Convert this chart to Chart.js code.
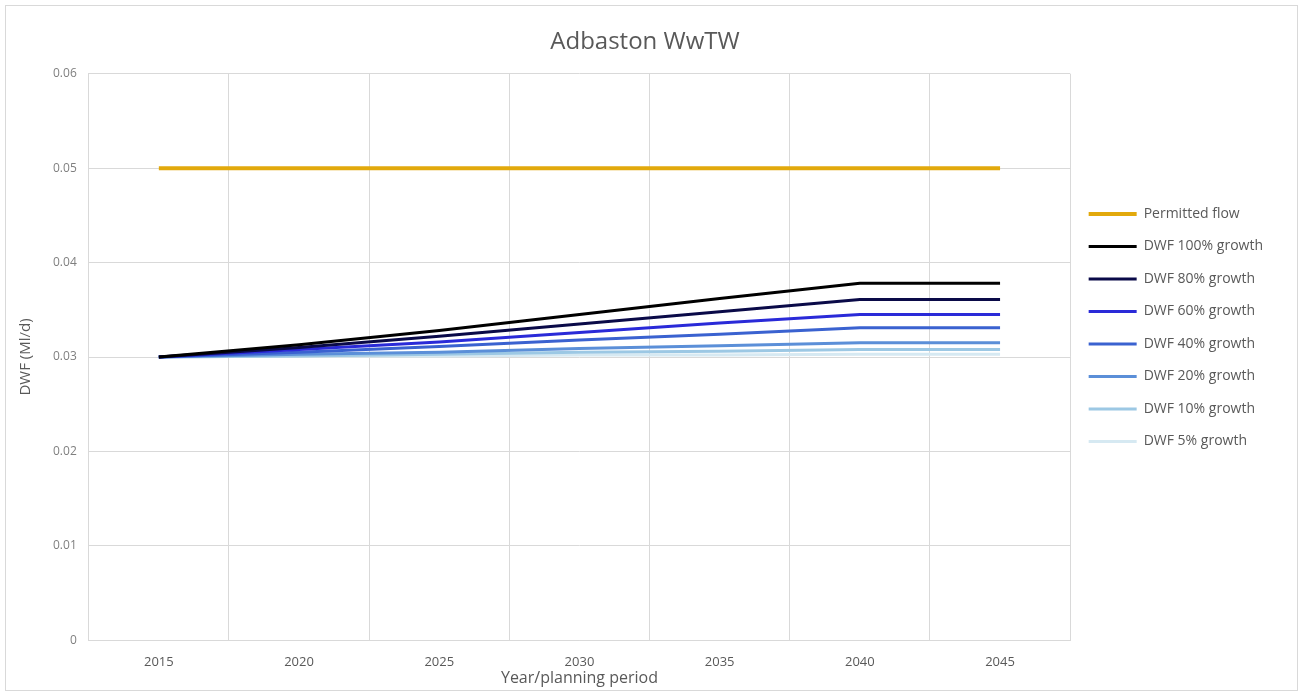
<!DOCTYPE html>
<html>
<head>
<meta charset="utf-8">
<script src="https://cdn.jsdelivr.net/npm/chart.js@4"></script>
<style>
  html, body { margin: 0; padding: 0; background: #fff; }
  #wrap { width: 1303px; height: 693px; position: relative; }
</style>
</head>
<body>
<div id="wrap"><canvas id="dwfChart" width="1303" height="693"></canvas></div>
<script>
const years = ["2015", "2020", "2025", "2030", "2035", "2040", "2045"];

const permittedFlow = [0.05, 0.05, 0.05, 0.05, 0.05, 0.05, 0.05];
const growth100 = [0.0300, 0.0313, 0.0328, 0.0345, 0.0362, 0.0378, 0.0378];
const growth80  = [0.0300, 0.0310, 0.0322, 0.0335, 0.0348, 0.0361, 0.0361];
const growth60  = [0.0300, 0.0308, 0.0316, 0.0326, 0.0336, 0.0345, 0.0345];
const growth40  = [0.0300, 0.0305, 0.0311, 0.0318, 0.0324, 0.0331, 0.0331];
const growth20  = [0.0300, 0.0303, 0.0305, 0.0309, 0.0312, 0.0315, 0.0315];
const growth10  = [0.0300, 0.0301, 0.0303, 0.0305, 0.0306, 0.0308, 0.0308];
const growth5   = [0.0300, 0.0301, 0.0301, 0.0302, 0.0302, 0.0303, 0.0303];

const yTicks = [0, 0.01, 0.02, 0.03, 0.04, 0.05, 0.06];

function line(label, data, color, width) {
  return {
    label: label,
    data: data,
    borderColor: color,
    backgroundColor: color,
    borderWidth: width,
    pointRadius: 0,
    pointHoverRadius: 0,
    tension: 0,
    fill: false,
  };
}

// light frame round the whole chart, like the spreadsheet chart box
const frame = {
  id: "frame",
  beforeDraw(chart) {
    const c = chart.ctx;
    c.save();
    c.fillStyle = "#ffffff";
    c.fillRect(0, 0, chart.width, chart.height);
    c.strokeStyle = "#d9d9d9";
    c.lineWidth = 1;
    c.strokeRect(5.5, 5.5, chart.width - 11, chart.height - 8);
    c.restore();
  },
};

document.addEventListener("DOMContentLoaded", function () {
  const ctx = document.getElementById("dwfChart").getContext("2d");
  const font = "Open Sans";

  new Chart(ctx, {
    type: "line",
    data: {
      labels: years,
      datasets: [
        line("Permitted flow", permittedFlow, "#e2a90c", 4),
        line("DWF 100% growth", growth100, "#000000", 3),
        line("DWF 80% growth", growth80, "#0a0a48", 3),
        line("DWF 60% growth", growth60, "#2a2ad8", 3),
        line("DWF 40% growth", growth40, "#3a62d0", 3),
        line("DWF 20% growth", growth20, "#5b8fd8", 3),
        line("DWF 10% growth", growth10, "#9cc8e4", 3),
        line("DWF 5% growth", growth5, "#d6e9f2", 3),
      ],
    },
    options: {
      responsive: false,
      animation: false,
      devicePixelRatio: 1,
      layout: {
        padding: { left: 17, right: 30, top: 12, bottom: 5 },
      },
      plugins: {
        tooltip: { enabled: false },
        title: {
          display: true,
          text: "Adbaston WwTW",
          color: "#595959",
          font: { family: font, size: 24, weight: "normal" },
          padding: { top: 16, bottom: 17 },
        },
        legend: {
          position: "right",
          align: "start",
          title: {
            display: true,
            text: "",
            padding: { top: 162, bottom: 0 },
          },
          labels: {
            usePointStyle: true,
            pointStyle: "line",
            pointStyleWidth: 48,
            color: "#595959",
            font: { family: font, size: 14 },
            padding: 18.5,
          },
        },
      },
      scales: {
        x: {
          offset: true,
          grid: {
            offset: true,
            color: "#d9d9d9",
            drawTicks: false,
          },
          border: { color: "#d9d9d9" },
          ticks: {
            color: "#595959",
            font: { family: font, size: 13 },
            padding: 14,
            maxRotation: 0,
          },
          title: {
            display: true,
            text: "Year/planning period",
            color: "#595959",
            font: { family: font, size: 16 },
            padding: { top: -15, bottom: 0 },
          },
        },
        y: {
          min: 0,
          max: 0.06,
          afterBuildTicks(axis) {
            axis.ticks = yTicks.map(function (v) { return { value: v }; });
          },
          grid: {
            color: "#d9d9d9",
            drawTicks: false,
          },
          border: { color: "#d9d9d9" },
          ticks: {
            color: "#7f7f7f",
            font: { family: font, size: 12 },
            padding: 12,
            callback: function (v) { return v === 0 ? "0" : v.toFixed(2); },
          },
          title: {
            display: true,
            text: "DWF (Ml/d)",
            color: "#595959",
            font: { family: font, size: 15 },
            padding: { top: 0, bottom: 6 },
          },
        },
      },
    },
    plugins: [frame],
  });
});
</script>
</body>
</html>
